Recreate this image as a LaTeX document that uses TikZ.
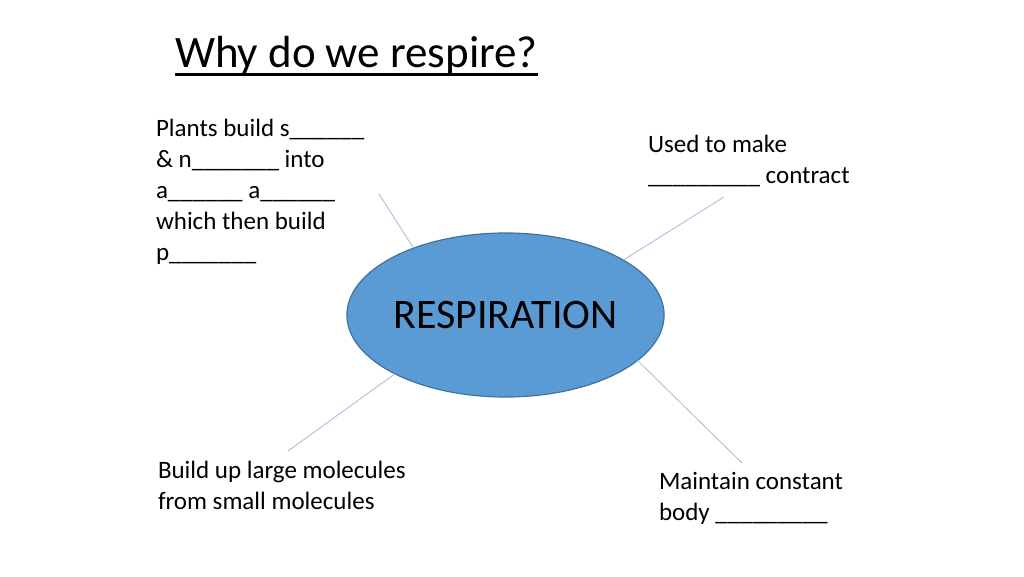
\documentclass[tikz,border=0pt]{standalone}
\usepackage{fontspec}
\setmainfont{Carlito}
\usetikzlibrary{shapes.geometric}
\definecolor{bubblefill}{HTML}{5B9BD5}
\definecolor{bubbleedge}{HTML}{41719C}
\definecolor{spokecol}{HTML}{A3B9D6}
\tikzset{%
  inner sep=0pt,%
  outer sep=0pt,%
  note/.style={align=left,anchor=base west,
    font=\fontsize{25}{31}\selectfont},% base = last line
  bubble/.style={ellipse,draw=bubbleedge,line width=1.2pt,fill=bubblefill,
    minimum width=315pt,minimum height=164pt,font=\fontsize{42}{50}\selectfont},%
  spoke/.style={draw=spokecol,line width=0.8pt}%
}

\begin{document}
\begin{tikzpicture}[x=1pt,y=-1pt]
	%% page frame
	\useasboundingbox (0,0) rectangle (1024,576);
	
	%% title
	\node[anchor=base west,font=\fontsize{45}{54}\selectfont] (title) at (175,67) {Why do we respire?};
	\draw[line width=3pt] ([yshift=-7pt]title.base west) -- ([yshift=-7pt]title.base east);
	
	%% centre
	\node[bubble] (resp) at (505.5,315) {RESPIRATION};
	
	%% the four notes (placed at the baseline of their last line)
	\node[note] (plants) at (156,260) {Plants build s\_\_\_\_\_\_\\
		\& n\_\_\_\_\_\_\_ into\\
		a\_\_\_\_\_\_ a\_\_\_\_\_\_\\
		which then build\\
		p\_\_\_\_\_\_\_};
	\node[note] (muscle) at (648,183) {Used to make\\
		\_\_\_\_\_\_\_\_\_ contract};
	\node[note] (build) at (158,509) {Build up large molecules\\
		from small molecules};
	\node[note] (temp) at (659,520) {Maintain constant\\
		body \_\_\_\_\_\_\_\_\_};
	
	%% spokes
	\coordinate (plants-tip) at (379,194);
	\coordinate (muscle-tip) at (724,197);
	\coordinate (build-tip) at (288,451);
	\coordinate (temp-tip) at (742,463);
	\draw[spoke] (plants-tip) -- (resp.144);
	\draw[spoke] (muscle-tip) -- (resp.25);
	\draw[spoke] (build-tip) -- (resp.208);
	\draw[spoke] (temp-tip) -- (resp.341);
\end{tikzpicture}
\end{document}
